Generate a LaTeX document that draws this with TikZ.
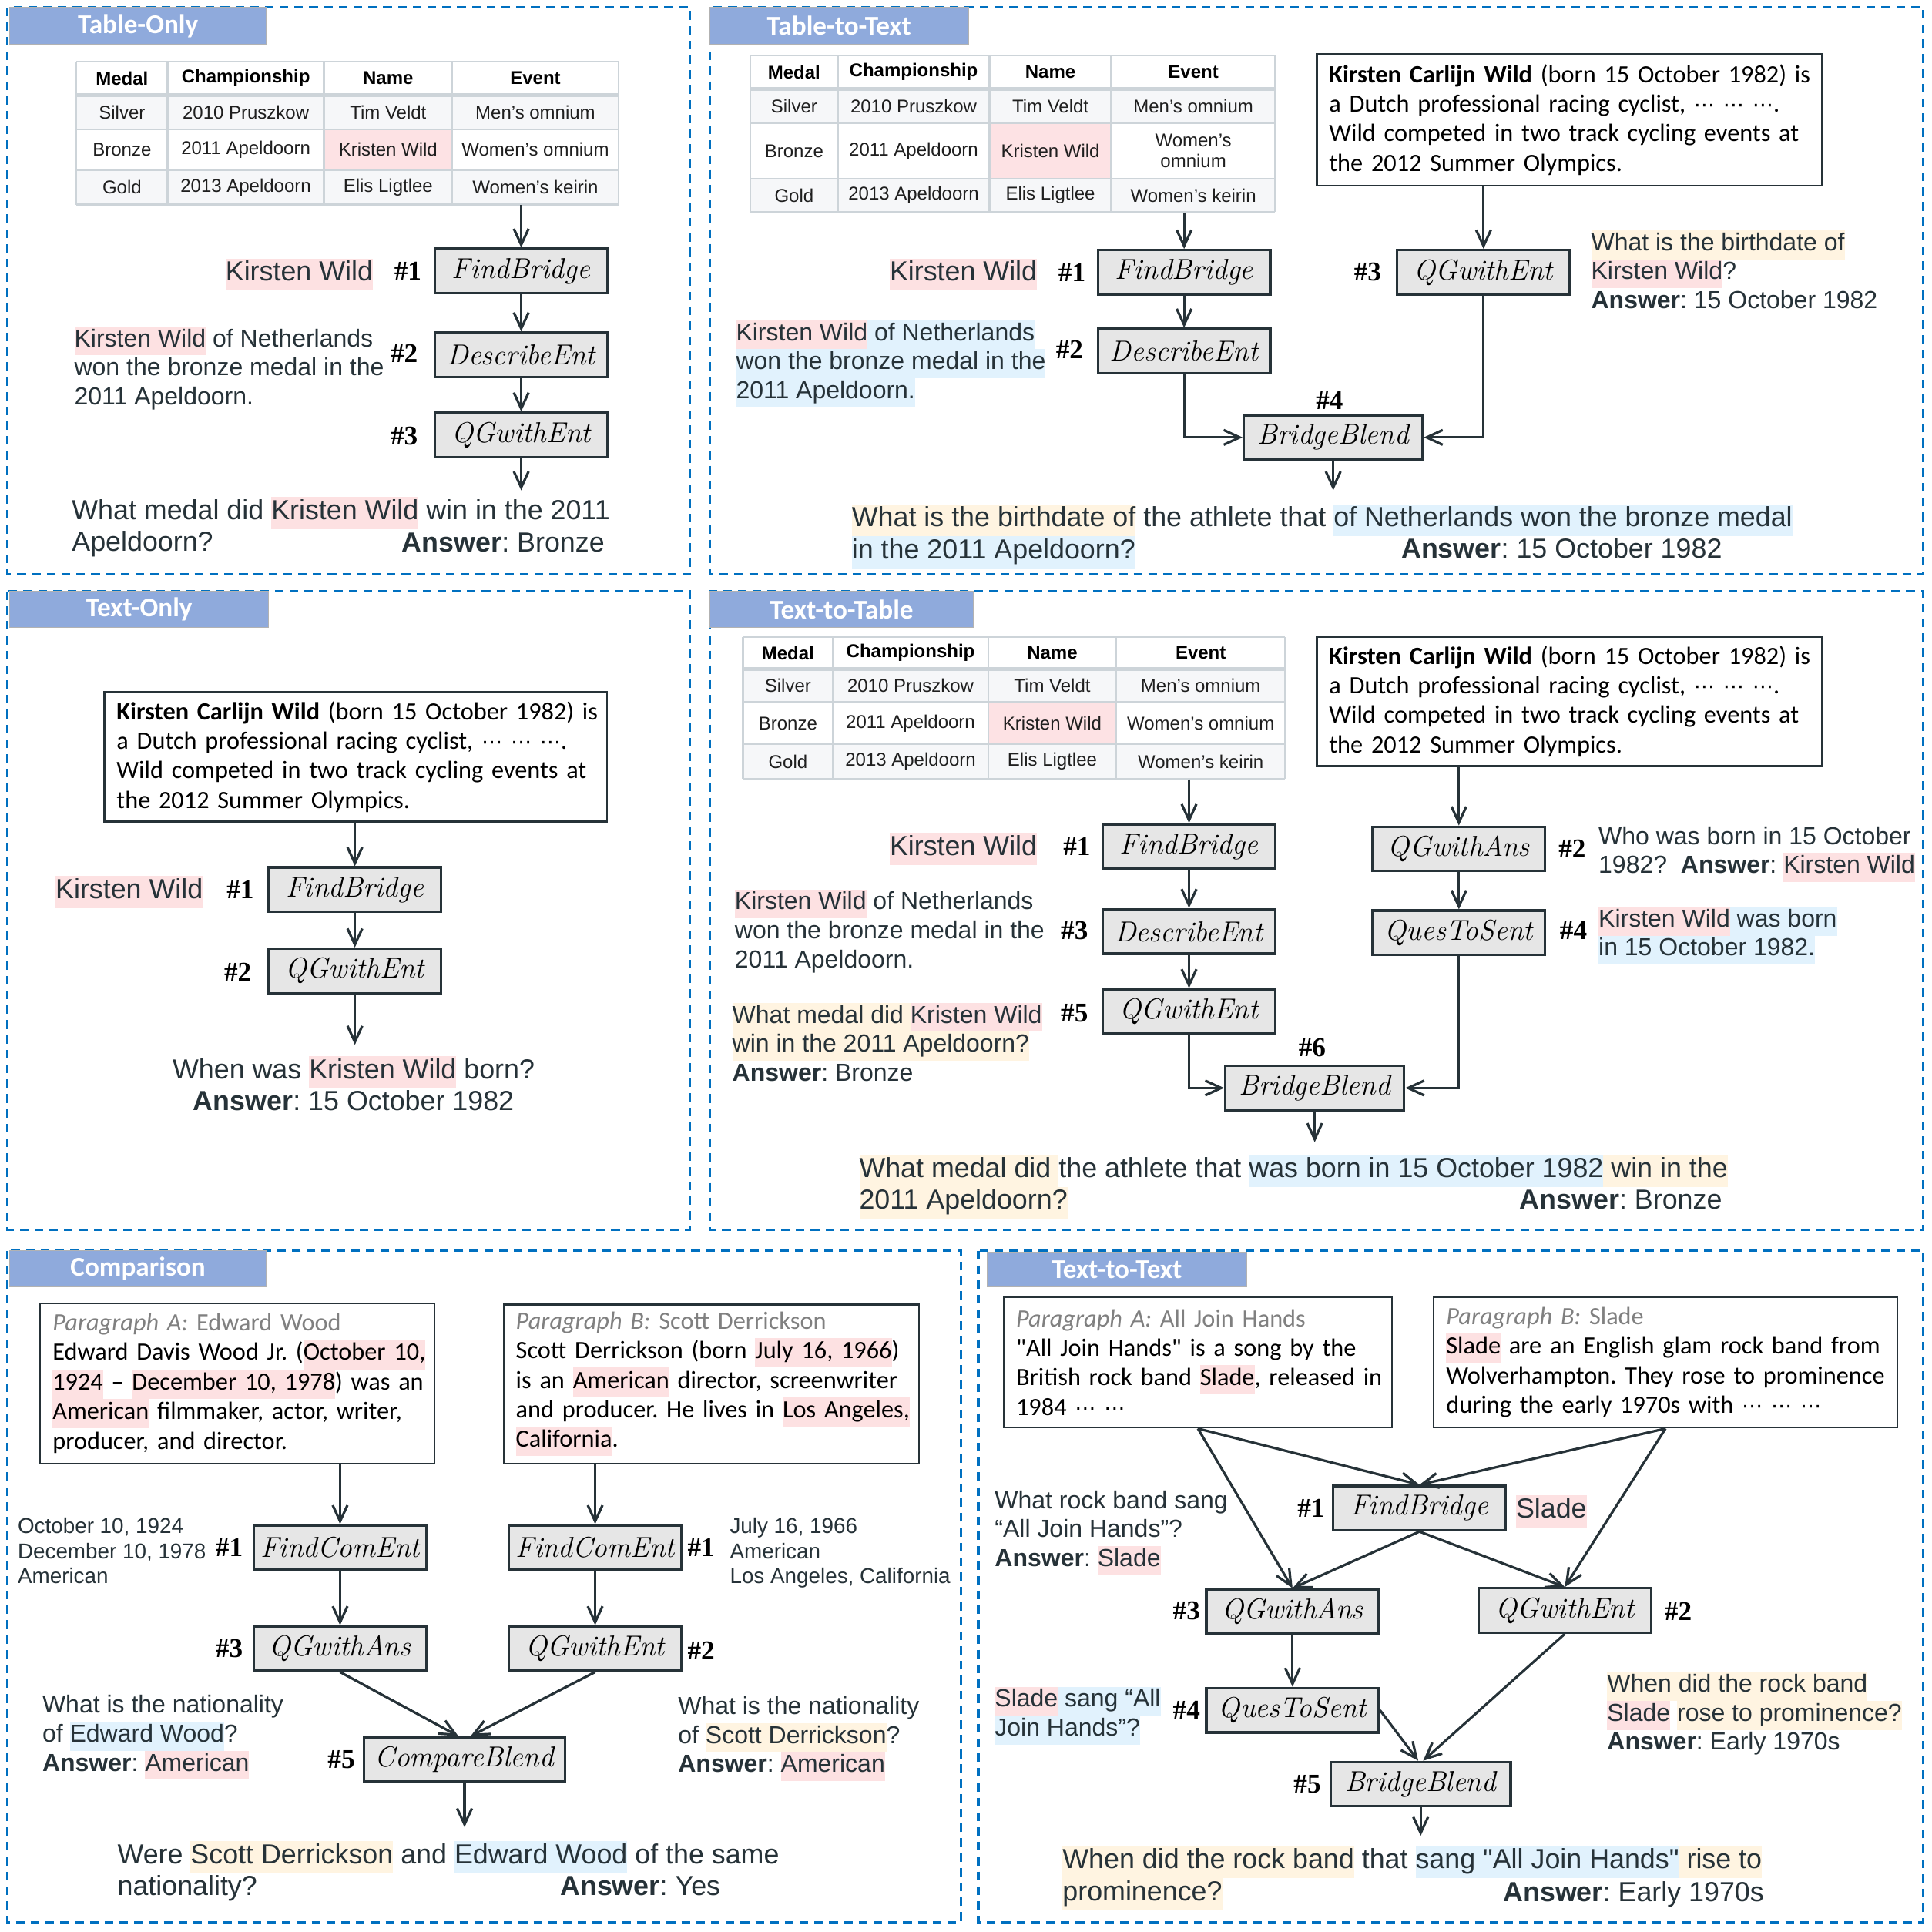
\documentclass[tikz,border=0pt]{standalone}
\usepackage{fontspec}
\newfontfamily\arialf{Liberation Sans}
\newfontfamily\parf{Carlito}
\newfontfamily\serf{Liberation Serif}
\newfontfamily\djv{DejaVu Sans}
\usetikzlibrary{arrows.meta,fit}
\definecolor{txt}{RGB}{38,50,56}
\definecolor{pk}{RGB}{253,225,226}
\definecolor{bl}{RGB}{225,242,253}
\definecolor{cr}{RGB}{255,244,225}
\definecolor{tabc}{RGB}{143,170,220}
\definecolor{dashc}{RGB}{0,112,192}
\definecolor{boxf}{RGB}{230,230,230}
\definecolor{tgrid}{RGB}{205,212,217}
\definecolor{trow}{RGB}{246,247,249}
\definecolor{tpk}{RGB}{253,226,228}
\definecolor{pgray}{RGB}{128,128,128}
\newcommand{\hlt}[2]{{\setlength{\fboxsep}{0pt}\colorbox{#1}{\strut #2}}}
\newcommand{\ans}{\textbf{Answer}}
\newcommand{\dts}{{\djv\fontsize{8.5}{12}\selectfont ⋯}}
\newcommand{\tabx}[5]{\def\xA{#1}\def\xB{#2}\def\xC{#3}\def\xD{#4}\def\xE{#5}}
\newcommand{\taby}[5]{\def\yA{#1}\def\yB{#2}\def\yC{#3}\def\yD{#4}\def\yE{#5}}
\tikzset{
  panel/.style={draw=dashc,line width=1pt,dash pattern=on 3.5pt off 2.5pt},
  tab/.style={fill=tabc,draw=gray!60,line width=0.4pt,text=white,font=\parf\bfseries\fontsize{11}{13}\selectfont,inner sep=0pt},
  op/.style={draw=txt,fill=boxf,line width=1pt,minimum width=70pt,minimum height=18pt,font=\rmfamily\itshape\fontsize{11.7}{14}\selectfont,text=black,inner sep=0pt},
  num/.style={font=\serf\bfseries\fontsize{11}{13}\selectfont,text=black,inner sep=0pt},
  ann/.style={font=\arialf\fontsize{10}{11.75}\selectfont,text=txt,align=left,inner sep=0pt},
  sml/.style={font=\arialf\fontsize{8.7}{10.25}\selectfont,text=txt,align=left,inner sep=0pt},
  qst/.style={font=\arialf\fontsize{11.2}{13}\selectfont,text=txt,align=left,inner sep=0pt},
  para/.style={draw=txt,line width=0.7pt,font=\parf\fontsize{10.1}{12}\selectfont,text=black,align=left,inner xsep=5pt,inner ysep=0pt,anchor=north west},
  conn/.style={draw=txt,line width=1pt,-{Straight Barb[length=6.5pt,width=6pt]}},
  tline/.style={draw=tgrid,line width=0.8pt},
  tcell/.style={font=\arialf\fontsize{7.5}{8.6}\selectfont,text=black!88,inner sep=0pt,align=center},
  thead/.style={tcell,font=\arialf\bfseries\fontsize{7.5}{8.6}\selectfont,text=black},
}
\newcommand{\wtab}[2]{%
  \fill[trow] (\xA,\yB) rectangle (\xE,\yC);
  \fill[trow] (\xA,\yD) rectangle (\xE,\yE);
  \fill[tpk] (\xC,\yC) rectangle (\xD,\yD);
  \foreach \xx in {\xA,\xB,\xC,\xD,\xE}{\draw[tline] (\xx,\yA) -- (\xx,\yE);}
  \foreach \yy in {\yA,\yC,\yD,\yE}{\draw[tline] (\xA,\yy) -- (\xE,\yy);}
  \draw[tline,line width=1.6pt] (\xA,\yB) -- (\xE,\yB);
  \node[fit={(\xA,\yA) (\xE,\yE)},inner sep=0pt] (#1) {};
  \node[thead] (#1-h1) at ({(\xA+\xB)/2},{(\yA+\yB)/2}) {Medal};
  \node[thead] (#1-h2) at ({(\xB+\xC)/2},{(\yA+\yB)/2}) {Championship};
  \node[thead] (#1-h3) at ({(\xC+\xD)/2},{(\yA+\yB)/2}) {Name};
  \node[thead] (#1-h4) at ({(\xD+\xE)/2},{(\yA+\yB)/2}) {Event};
  \node[tcell] (#1-a1) at ({(\xA+\xB)/2},{(\yB+\yC)/2}) {Silver};
  \node[tcell] (#1-a2) at ({(\xB+\xC)/2},{(\yB+\yC)/2}) {2010 Pruszkow};
  \node[tcell] (#1-a3) at ({(\xC+\xD)/2},{(\yB+\yC)/2}) {Tim Veldt};
  \node[tcell] (#1-a4) at ({(\xD+\xE)/2},{(\yB+\yC)/2}) {Men’s omnium};
  \node[tcell] (#1-b1) at ({(\xA+\xB)/2},{(\yC+\yD)/2}) {Bronze};
  \node[tcell] (#1-b2) at ({(\xB+\xC)/2},{(\yC+\yD)/2}) {2011 Apeldoorn};
  \node[tcell] (#1-b3) at ({(\xC+\xD)/2},{(\yC+\yD)/2}) {Kristen Wild};
  \node[tcell] (#1-b4) at ({(\xD+\xE)/2},{(\yC+\yD)/2}) {#2};
  \node[tcell] (#1-c1) at ({(\xA+\xB)/2},{(\yD+\yE)/2}) {Gold};
  \node[tcell] (#1-c2) at ({(\xB+\xC)/2},{(\yD+\yE)/2}) {2013 Apeldoorn};
  \node[tcell] (#1-c3) at ({(\xC+\xD)/2},{(\yD+\yE)/2}) {Elis Ligtlee};
  \node[tcell] (#1-c4) at ({(\xD+\xE)/2},{(\yD+\yE)/2}) {Women’s keirin};
}
\newcommand{\kcw}{\mbox{\textbf{Kirsten Carlijn Wild} (born 15 October 1982) is}\\\mbox{a Dutch professional racing cyclist, \dts\ \dts\ \dts.}\\\mbox{Wild competed in two track cycling events at}\\\mbox{the 2012 Summer Olympics.}}
\begin{document}
\frenchspacing
\begin{tikzpicture}[x=0.5pt,y=-0.5pt]
\path[use as bounding box,fill=white] (0,0) rectangle (1568,1568);
% panels
\draw[panel] (6,6) rectangle (560,466);
\draw[panel] (576,6) rectangle (1561,466);
\draw[panel] (6,480) rectangle (560,998);
\draw[panel] (576,480) rectangle (1561,998);
\draw[panel] (6,1015) rectangle (780,1560);
\draw[panel] (794,1015) rectangle (1561,1560);
\node[tab,minimum width=104pt,minimum height=15pt] (tabA) at (112,21) {Table-Only};
\node[tab,minimum width=105pt,minimum height=15pt] (tabB) at (681,21) {Table-to-Text};
\node[tab,minimum width=105pt,minimum height=14.5pt] (tabC) at (113,494.5) {Text-Only};
\node[tab,minimum width=107pt,minimum height=14.5pt] (tabD) at (683,494.5) {Text-to-Table};
\node[tab,minimum width=104pt,minimum height=14.5pt] (tabE) at (112,1029.5) {Comparison};
\node[tab,minimum width=105.5pt,minimum height=14pt] (tabF) at (906.5,1030.5) {Text-to-Text};

% ===== Panel 1: Table-Only
\tabx{62}{136}{263}{367}{502}\taby{50}{77}{105}{138}{166}
\wtab{t1}{Women’s omnium}
\node[op] (fb1) at (423,220) {FindBridge};
\node[op] (de1) at (423,288) {DescribeEnt};
\node[op] (qe1) at (423,353) {QGwithEnt};
\coordinate (e1) at (423,398);
\node[num] (n11) at (331,220) {\#1};
\node[num] (n12) at (328,287) {\#2};
\node[num] (n13) at (328,354) {\#3};
\node[qst,anchor=base east] (kw1) at (303,228) {\hlt{pk}{Kirsten Wild}};
\node[ann,anchor=north west] (an1) at (60,264.5) {\strut\hlt{pk}{Kirsten Wild} of Netherlands\\\strut won the bronze medal in the\\\strut 2011 Apeldoorn.};
\node[qst,anchor=north west] (q1) at (58,402.8) {\strut What medal did \hlt{pk}{Kristen Wild} win in the 2011\\\strut Apeldoorn?};
\node[qst,anchor=base east] (a1) at (491,448) {\ans: Bronze};
\draw[conn] (t1.south -| fb1) -- (fb1);
\draw[conn] (fb1) -- (de1);
\draw[conn] (de1) -- (qe1);
\draw[conn] (qe1) -- (e1);

% ===== Panel 2: Table-to-Text
\tabx{609}{680}{803}{902}{1035}\taby{45}{72}{100}{145}{172}
\wtab{t2}{Women’s\\omnium}
\node[para,text width=195pt,minimum height=53.5pt] (p2) at (1068,43) {\kcw};
\node[op] (fb2) at (961,221) {FindBridge};
\node[op] (de2) at (961,285) {DescribeEnt};
\node[op] (qe2) at (1204,221) {QGwithEnt};
\node[op,minimum width=72.5pt] (bb2) at (1082,355) {BridgeBlend};
\coordinate (e2) at (1082,398);
\node[num] (n21) at (870,221) {\#1};
\node[num] (n22) at (868,284) {\#2};
\node[num] (n23) at (1110,221) {\#3};
\node[num] (n24) at (1079,325) {\#4};
\node[qst,anchor=base east] (kw2) at (842,228) {\hlt{pk}{Kirsten Wild}};
\node[ann,anchor=north west] (an2) at (597,259.5) {\strut\hlt{pk}{Kirsten Wild}\hlt{bl}{ of Netherlands}\\\strut\hlt{bl}{won the bronze medal in the}\\\strut\hlt{bl}{2011 Apeldoorn.}};
\node[ann,anchor=north west] (an2b) at (1291,186.5) {\strut\hlt{cr}{What is the birthdate of}\\\strut\hlt{pk}{Kirsten Wild}?\\\strut\ans: 15 October 1982};
\node[qst,anchor=north west] (q2) at (691,408.8) {\strut\hlt{cr}{What is the birthdate of} the athlete that \hlt{bl}{of Netherlands won the bronze medal}\\\strut\hlt{bl}{in the 2011 Apeldoorn?}};
\node[qst,anchor=base east] (a2) at (1398,453) {\ans: 15 October 1982};
\draw[conn] (t2.south -| fb2) -- (fb2);
\draw[conn] (fb2) -- (de2);
\draw[conn] (de2) |- (bb2);
\draw[conn] (p2.south -| qe2) -- (qe2);
\draw[conn] (qe2) |- (bb2);
\draw[conn] (bb2) -- (e2);

% ===== Panel 3: Text-Only
\node[para,text width=194pt,minimum height=52.5pt] (p3) at (84,561) {\kcw};
\node[op] (fb3) at (288,722) {FindBridge};
\node[op] (qe3) at (288,788) {QGwithEnt};
\coordinate (e3) at (288,848);
\node[num] (n31) at (195,722) {\#1};
\node[num] (n32) at (193,789) {\#2};
\node[qst,anchor=base east] (kw3) at (165,729) {\hlt{pk}{Kirsten Wild}};
\node[qst,anchor=north,align=center] (q3) at (287,856.8) {\strut When was \hlt{pk}{Kristen Wild} born?\\\strut\ans: 15 October 1982};
\draw[conn] (p3.south -| fb3) -- (fb3);
\draw[conn] (fb3) -- (qe3);
\draw[conn] (qe3) -- (e3);

% ===== Panel 4: Text-to-Table
\tabx{603}{676}{802}{906}{1043}\taby{517}{543}{570}{604}{632}
\wtab{t4}{Women’s omnium}
\node[para,text width=195pt,minimum height=52.5pt] (p4) at (1068,516) {\kcw};
\node[op] (fb4) at (965,687) {FindBridge};
\node[op] (de4) at (965,756) {DescribeEnt};
\node[op] (qe4) at (965,821) {QGwithEnt};
\node[op] (qa4) at (1184,689) {QGwithAns};
\node[op] (qs4) at (1184,757) {QuesToSent};
\node[op,minimum width=72.5pt] (bb4) at (1067,883) {BridgeBlend};
\coordinate (e4) at (1067,927);
\node[num] (n41) at (874,687) {\#1};
\node[num] (n43) at (872,755) {\#3};
\node[num] (n45) at (872,822) {\#5};
\node[num] (n42) at (1276,689) {\#2};
\node[num] (n44) at (1277,755) {\#4};
\node[num] (n46) at (1065,850) {\#6};
\node[qst,anchor=base east] (kw4) at (842,694) {\hlt{pk}{Kirsten Wild}};
\node[ann,anchor=north west] (an4a) at (596,721.5) {\strut\hlt{pk}{Kirsten Wild} of Netherlands\\\strut won the bronze medal in the\\\strut 2011 Apeldoorn.};
\node[ann,anchor=north west] (an4b) at (594,813.5) {\strut\hlt{cr}{What medal did }\hlt{pk}{Kristen Wild}\\\strut\hlt{cr}{win in the 2011 Apeldoorn?}\\\strut\ans: Bronze};
\node[ann,anchor=north west] (an4c) at (1297,668.5) {\strut Who was born in 15 October\\\strut 1982?\ \ \ans: \hlt{pk}{Kirsten Wild}};
\node[ann,anchor=north west] (an4d) at (1297,735.5) {\strut\hlt{pk}{Kirsten Wild}\hlt{bl}{ was born}\\\strut\hlt{bl}{in 15 October 1982.}};
\node[qst,anchor=north west] (q4) at (697,936.8) {\strut\hlt{cr}{What medal did }the athlete that \hlt{bl}{was born in 15 October 1982}\hlt{cr}{ win in the}\\\strut\hlt{cr}{2011 Apeldoorn?}};
\node[qst,anchor=base east] (a4) at (1398,981) {\ans: Bronze};
\draw[conn] (t4.south -| fb4) -- (fb4);
\draw[conn] (fb4) -- (de4);
\draw[conn] (de4) -- (qe4);
\draw[conn] (qe4) |- (bb4);
\draw[conn] (p4.south -| qa4) -- (qa4);
\draw[conn] (qa4) -- (qs4);
\draw[conn] (qs4) |- (bb4);
\draw[conn] (bb4) -- (e4);

% ===== Panel 5: Comparison
\node[para,text width=150pt,minimum height=65pt] (pa5) at (32,1057) {%
\mbox{{\color{pgray}\itshape Paragraph A:\upshape{} Edward Wood}}\\
\mbox{Edward Davis Wood Jr. (\hlt{pk}{October 10,}}\\
\mbox{\hlt{pk}{1924} – \hlt{pk}{December 10, 1978}) was an}\\
\mbox{\hlt{pk}{American} filmmaker, actor, writer,}\\
\mbox{producer, and director.}};
\node[para,text width=158.5pt,minimum height=64.5pt] (pb5) at (408,1058) {%
\mbox{{\color{pgray}\itshape Paragraph B:\upshape{} Scott Derrickson}}\\
\mbox{Scott Derrickson (born \hlt{pk}{July 16, 1966})}\\
\mbox{is an \hlt{pk}{American} director, screenwriter}\\
\mbox{and producer. He lives in \hlt{pk}{Los Angeles,}}\\
\mbox{\hlt{pk}{California}.}};
\node[op] (fc5a) at (276,1256) {FindComEnt};
\node[op] (fc5b) at (483,1256) {FindComEnt};
\node[op] (qa5) at (276,1338) {QGwithAns};
\node[op] (qe5) at (483,1338) {QGwithEnt};
\node[op,minimum width=81.5pt] (cb5) at (377,1428) {CompareBlend};
\coordinate (e5) at (377,1483);
\node[num] (n51a) at (186,1256) {\#1};
\node[num] (n51b) at (569,1256) {\#1};
\node[num] (n53) at (186,1338) {\#3};
\node[num] (n52) at (569,1340) {\#2};
\node[num] (n55) at (277,1428) {\#5};
\node[sml,anchor=north west] (sm5a) at (14,1229.6) {\strut October 10, 1924\\\strut December 10, 1978\\\strut American};
\node[sml,anchor=north west] (sm5b) at (592,1229.6) {\strut July 16, 1966\\\strut American\\\strut Los Angeles, California};
\node[ann,anchor=north west] (an5a) at (34,1373.5) {\strut What is the nationality\\\strut of \hlt{bl}{Edward Wood}?\\\strut\ans: \hlt{pk}{American}};
\node[ann,anchor=north west] (an5b) at (550,1374.5) {\strut What is the nationality\\\strut of \hlt{cr}{Scott Derrickson}?\\\strut\ans: \hlt{pk}{American}};
\node[qst,anchor=north west] (q5) at (95,1493.8) {\strut Were \hlt{cr}{Scott Derrickson} and \hlt{bl}{Edward Wood} of the same\\\strut nationality?};
\node[qst,anchor=base east] (a5) at (585,1538) {\ans: Yes};
\draw[conn] (pa5.south -| fc5a) -- (fc5a);
\draw[conn] (pb5.south -| fc5b) -- (fc5b);
\draw[conn] (fc5a) -- (qa5);
\draw[conn] (fc5b) -- (qe5);
\draw[conn] (qa5.south) -- ([xshift=-2.5pt]cb5.north);
\draw[conn] (qe5.south) -- ([xshift=2.5pt]cb5.north);
\draw[conn] (cb5) -- (e5);

% ===== Panel 6: Text-to-Text
\node[para,text width=147.5pt,minimum height=53pt] (pa6) at (814,1052) {%
\mbox{{\color{pgray}\itshape Paragraph A:\upshape{} All Join Hands}}\\
\mbox{"All Join Hands" is a song by the}\\
\mbox{British rock band \hlt{pk}{Slade}, released in}\\
\mbox{1984 \dts\ \dts}};
\node[para,text width=178pt,minimum height=53pt] (pb6) at (1163,1052) {%
\mbox{{\color{pgray}\itshape Paragraph B:\upshape{} Slade}}\\
\mbox{\hlt{pk}{Slade} are an English glam rock band from}\\
\mbox{Wolverhampton. They rose to prominence}\\
\mbox{during the early 1970s with \dts\ \dts\ \dts}};
\node[op] (fb6) at (1152,1224) {FindBridge};
\node[op] (qa6) at (1049,1308) {QGwithAns};
\node[op] (qe6) at (1270,1307) {QGwithEnt};
\node[op] (qs6) at (1049,1388) {QuesToSent};
\node[op,minimum width=73pt] (bb6) at (1153,1448) {BridgeBlend};
\coordinate (e6) at (1153,1490);
\node[num] (n61) at (1064,1224) {\#1};
\node[num] (n63) at (963,1307) {\#3};
\node[num] (n62) at (1362,1308) {\#2};
\node[num] (n64) at (963,1388) {\#4};
\node[num] (n65) at (1061,1448) {\#5};
\node[qst,anchor=base west] (sl6) at (1230,1232) {\hlt{pk}{Slade}};
\node[ann,anchor=north west] (an6a) at (807,1207.5) {\strut What rock band sang\\\strut “All Join Hands”?\\\strut\ans: \hlt{pk}{Slade}};
\node[ann,anchor=north west] (an6b) at (807,1368.5) {\strut\hlt{pk}{Slade}\hlt{bl}{ sang “All}\\\strut\hlt{bl}{Join Hands”?}};
\node[ann,anchor=north west] (an6c) at (1304,1356.5) {\strut\hlt{cr}{When did the rock band}\\\strut\hlt{pk}{Slade} \hlt{cr}{rose to prominence?}\\\strut\ans: Early 1970s};
\node[qst,anchor=north west] (q6) at (862,1497.8) {\strut\hlt{cr}{When did the rock band} that \hlt{bl}{sang "All Join Hands"}\hlt{cr}{ rise to}\\\strut\hlt{cr}{prominence?}};
\node[qst,anchor=base east] (a6) at (1432,1543) {\ans: Early 1970s};
\draw[conn] (pa6.south) -- (fb6.north);
\draw[conn] (pb6.south) -- (fb6.north);
\draw[conn] (pa6.south) -- (qa6.north);
\draw[conn] (pb6.south) -- (qe6.north);
\draw[conn] (fb6.south) -- (qa6.north);
\draw[conn] (fb6.south) -- (qe6.north);
\draw[conn] (qa6) -- (qs6);
\draw[conn] (qs6.east) -- ([xshift=-1pt]bb6.north);
\draw[conn] (qe6.south) -- ([xshift=1pt]bb6.north);
\draw[conn] (bb6) -- (e6);
\end{tikzpicture}
\end{document}
